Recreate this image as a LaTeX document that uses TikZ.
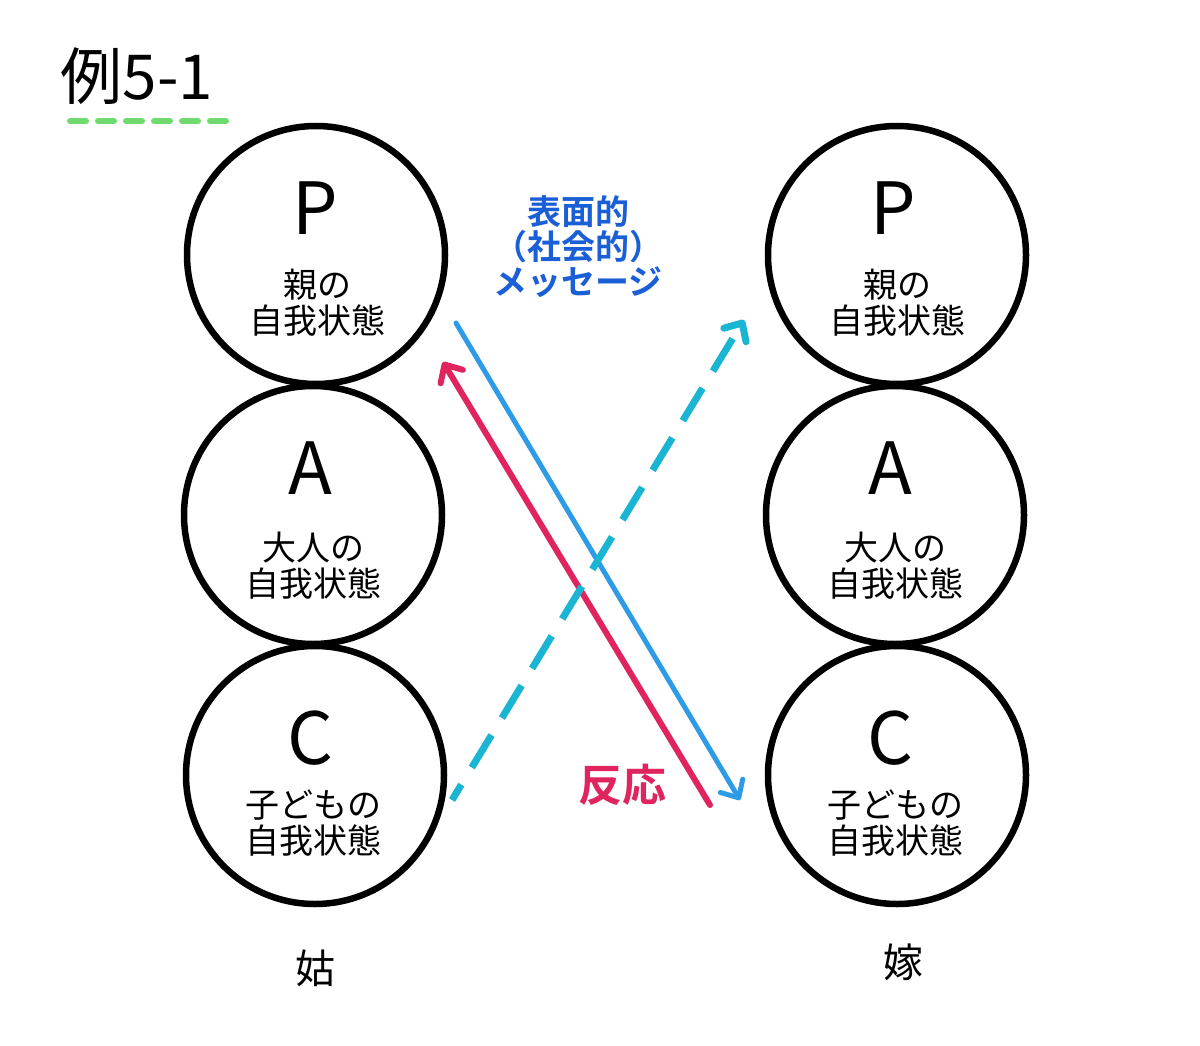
\documentclass[tikz,border=0pt]{standalone}
\usepackage{fontspec}
\setmainfont{Noto Sans CJK JP}
\newfontfamily\jpb{Noto Sans CJK JP}[BoldFont={* Bold}]
\usetikzlibrary{arrows.meta}
\definecolor{msgblue}{HTML}{1A5FD6}
\definecolor{lineblue}{HTML}{2E9BE6}
\definecolor{rred}{HTML}{E0245E}
\definecolor{cyanl}{HTML}{1BB5D4}
\definecolor{greenl}{HTML}{6FDB6F}
\begin{document}
\begin{tikzpicture}[x=1pt,y=-1pt,
  ego/.style={circle,draw=black,line width=6.5pt,minimum size=258pt,inner sep=0pt},
  letter/.style={font=\fontsize{72}{72}\selectfont},
  sub/.style={font=\fontsize{34}{36}\selectfont,align=center},
  who/.style={font=\fontsize{40}{40}\selectfont},
  tip/.style={-{Straight Barb[length=14pt,width=26pt,line cap=round,line join=round]}}
]
\useasboundingbox[fill=white] (0,0) rectangle (1200,1046);
% title
\node[font=\fontsize{62}{62}\selectfont] (title) at (137,76) {例5-1};
\draw[greenl,line width=6pt,line cap=round,dash pattern=on 16pt off 12pt] (70,121) -- (228,121);
% left circles
\node[ego] (LP) at (316,255) {};
\node[ego] (LA) at (313,515) {};
\node[ego] (LC) at (315,775) {};
% right circles
\node[ego] (RP) at (897,255) {};
\node[ego] (RA) at (895,515) {};
\node[ego] (RC) at (897,775) {};
% left texts
\node[letter] (lpl) at (315,208) {P};
\node[sub] (lpt) at (317,303) {親の\\自我状態};
\node[letter] (lal) at (310,468) {A};
\node[sub] (lat) at (313,566) {大人の\\自我状態};
\node[letter] (lcl) at (310,738) {C};
\node[sub] (lct) at (313,823) {子どもの\\自我状態};
% right texts
\node[letter] (rpl) at (893,208) {P};
\node[sub] (rpt) at (897,303) {親の\\自我状態};
\node[letter] (ral) at (890,468) {A};
\node[sub] (rat) at (895,566) {大人の\\自我状態};
\node[letter] (rcl) at (890,738) {C};
\node[sub] (rct) at (895,823) {子どもの\\自我状態};
% persons
\node[who] (shu) at (315,968) {姑};
\node[who] (yome) at (903,962) {嫁};
% message label
\node[font=\jpb\bfseries\fontsize{34}{35}\selectfont,text=msgblue,align=center] (msg) at (578,247) {表面的\\（社会的）\\メッセージ};
\node[font=\jpb\bfseries\fontsize{44}{44}\selectfont,text=rred] (resp) at (622,785) {反応};
% arrow endpoints
\coordinate (b1) at (456,323);
\coordinate (b2) at (740,800);
\coordinate (r1) at (710,805);
\coordinate (r2) at (443,362);
\coordinate (c1) at (452,800);
\coordinate (c2) at (744,320);
% arrows
\draw[lineblue,line width=5pt,line cap=round,tip] (b1) -- (b2);
\draw[rred,line width=6pt,line cap=round,tip] (r1) -- (r2);
\draw[cyanl,line width=7pt,dash pattern=on 38pt off 20pt,dash phase=20pt,tip] (c1) -- (c2);
\end{tikzpicture}
\end{document}
